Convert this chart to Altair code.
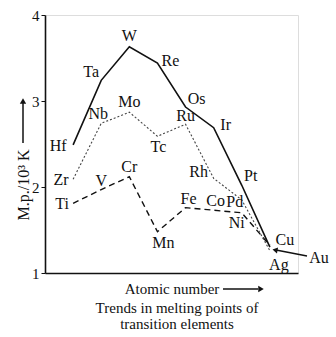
import altair as alt
import pandas as pd

# ---- data ----
groups = [0, 1, 2, 3, 4, 5, 6, 7]
elements_3d = ["Ti", "V", "Cr", "Mn", "Fe", "Co", "Ni", "Cu"]
mp_3d = [1.81, 1.97, 2.12, 1.48, 1.76, 1.73, 1.70, 1.32]
elements_4d = ["Zr", "Nb", "Mo", "Tc", "Ru", "Rh", "Pd", "Ag"]
mp_4d = [2.09, 2.74, 2.87, 2.59, 2.73, 2.10, 1.85, 1.26]
elements_5d = ["Hf", "Ta", "W", "Re", "Os", "Ir", "Pt", "Au"]
mp_5d = [2.49, 3.24, 3.63, 3.44, 2.93, 2.69, 2.02, 1.30]
y_ticks = [1, 2, 3, 4]

series = pd.concat([
    pd.DataFrame({"g": groups, "mp": mp_3d, "el": elements_3d, "s": "3d"}),
    pd.DataFrame({"g": groups, "mp": mp_4d, "el": elements_4d, "s": "4d"}),
    pd.DataFrame({"g": groups, "mp": mp_5d, "el": elements_5d, "s": "5d"}),
], ignore_index=True)

# label offsets (pixels) -- layout only
label_offsets = {
    "Ti": (-11, 1), "V": (0, -9), "Cr": (0, -10), "Mn": (6, 11),
    "Fe": (3, -9), "Co": (2, -9), "Ni": (-5, 10), "Cu": (15, -5),
    "Zr": (-12, 1), "Nb": (-3, -9), "Mo": (0, -10), "Tc": (1, 11),
    "Ru": (0, -8), "Rh": (-15, -6), "Pd": (-7, 2), "Ag": (9, 14),
    "Hf": (-15, 1), "Ta": (-10, -8), "W": (0, -11), "Re": (13, -2),
    "Os": (11, -8), "Ir": (12, -3), "Pt": (9, -9), "Au": (0, 0),
}

FONT = "Liberation Serif"
INK = "#111"
W, H = 253, 258

x = alt.X("g:Q", scale=alt.Scale(domain=[-1, 8], nice=False, zero=False),
          axis=alt.Axis(title=None, labels=False, ticks=False, grid=False,
                        domainColor=INK, domainWidth=1.6))
y = alt.Y("mp:Q", scale=alt.Scale(domain=[1, 4], nice=False, zero=False),
          axis=alt.Axis(title=None, values=y_ticks, format="d", grid=False,
                        tickSize=4, tickColor=INK, domainColor=INK,
                        domainWidth=1.6, labelFont=FONT, labelFontSize=15,
                        labelColor=INK, labelPadding=2))

base = alt.Chart(series)
line3 = base.transform_filter("datum.s == '3d'").mark_line(
    color=INK, strokeWidth=1.4, strokeDash=[6, 4]).encode(x=x, y=y, order="g:Q")
line4 = base.transform_filter("datum.s == '4d'").mark_line(
    color="#444", strokeWidth=1.1, strokeDash=[2, 2]).encode(x=x, y=y, order="g:Q")
line5 = base.transform_filter("datum.s == '5d'").mark_line(
    color=INK, strokeWidth=1.6).encode(x=x, y=y, order="g:Q")

labels = []
for el, (dx, dy) in label_offsets.items():
    if el == "Au":
        continue
    labels.append(
        base.transform_filter(alt.datum.el == el).mark_text(
            font=FONT, fontSize=16, color=INK, dx=dx, dy=dy,
            align="center", baseline="middle").encode(
            x="g:Q", y="mp:Q", text="el:N"))

def txt(s, px, py, size=16, angle=0, weight="normal"):
    return alt.Chart(pd.DataFrame({"t": [s]})).mark_text(
        font=FONT, fontSize=size, color=INK, align="center",
        baseline="middle", angle=angle, fontWeight=weight).encode(
        x=alt.value(px), y=alt.value(py), text="t:N")

def rule(x1, y1, x2, y2, w=1.4):
    return alt.Chart(pd.DataFrame({"a": [0]})).mark_rule(
        color=INK, strokeWidth=w).encode(
        x=alt.value(x1), y=alt.value(y1), x2=alt.value(x2), y2=alt.value(y2))

def head(px, py, shape, angle=0, size=40):
    return alt.Chart(pd.DataFrame({"a": [0]})).mark_point(
        shape=shape, filled=True, color=INK, size=size, angle=angle,
        opacity=1).encode(x=alt.value(px), y=alt.value(py))

deco = [
    # Au label with arrow
    txt("Au", 274, 243),
    rule(262, 241, 231, 235, 1.3),
    head(230, 235, "triangle-left", angle=11, size=35),
    # y-axis title with arrow
    txt("M.p./10³ K", -21, 170, size=16, angle=270),
    rule(-22, 128, -22, 88, 1.5),
    head(-22, 86, "triangle-up", size=40),
    # x-axis title with arrow
    txt("Atomic number", 127, 274, size=15),
    rule(178, 274, 213, 274, 1.5),
    head(216, 274, "triangle-right", size=40),
    # caption
    txt("Trends in melting points of", 132, 293, size=15),
    txt("transition elements", 132, 309, size=15),
]

chart = alt.layer(line3, line4, line5, *labels, *deco).properties(
    width=W, height=H,
    autosize=alt.AutoSizeParams(type="none"),
    padding={"left": 45, "top": 15, "right": 38, "bottom": 64},
).configure_view(stroke=None).configure(background="white")

chart.save("out.html", embed_options={"renderer": "svg", "actions": False})
